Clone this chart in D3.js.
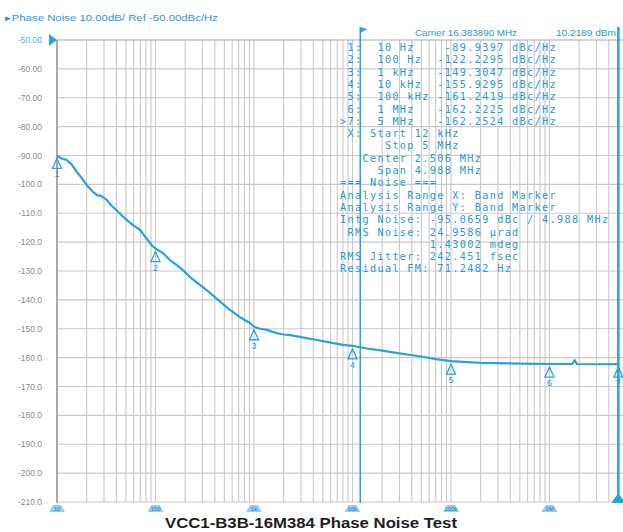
<!DOCTYPE html>
<html>
<head>
<meta charset="utf-8">
<script src="https://cdn.jsdelivr.net/npm/d3@7"></script>
<style>
  html, body { margin: 0; padding: 0; background: #fff; }
  svg { display: block; }
</style>
</head>
<body>
<div id="wrapper"></div>
<script>
/* DATA */
const traceFreq = [10, 11, 12.5, 14, 16, 18, 20, 23, 25.5, 28, 32, 36, 40, 45, 51, 60, 70, 80, 94, 100,
  119, 140, 165, 190, 224, 283, 357, 450, 570, 720, 911, 1000, 1150, 1350, 1500, 1700, 2000, 2330,
  3000, 4360, 6000, 8000, 10000, 15000, 20000, 30000, 50000, 70000, 100000, 200000, 500000,
  1e6, 1.7e6, 1.8e6, 1.9e6, 3e6, 5e6]
const traceDb = [-90.0, -91.0, -91.5, -93.0, -95.8, -98.0, -100.2, -102.5, -103.7, -104.0, -105.4, -107.5, -108.9, -110.6, -112.3, -114.3, -115.8, -118.5, -121.5, -122.2,
  -123.8, -126.2, -128.0, -129.7, -132.1, -134.8, -137.6, -140.5, -143.5, -146.0, -148.0, -149.3, -150.0, -150.4, -150.9, -151.5, -152.0, -152.2,
  -152.9, -153.9, -154.8, -155.6, -155.9, -157.0, -157.6, -158.5, -159.6, -160.5, -161.2, -161.8, -162.1,
  -162.2, -162.2, -160.9, -162.2, -162.3, -162.25]

const markerIds = ['1', '2', '3', '4', '5', '6', '7']
const markerFreqs = [10, 100, 1000, 10000, 100000, 1e6, 5e6]
const markerFreqLabels = ['10 Hz', '100 Hz', '1 kHz', '10 kHz', '100 kHz', '1 MHz', '5 MHz']
const markerValues = ['-89.9397', '-122.2295', '-149.3047', '-155.9295', '-161.2419', '-162.2225', '-162.2524']
const markerDb = [-89.94, -122.23, -149.30, -155.93, -161.24, -162.22, -162.25]

const yTicks = [-50, -60, -70, -80, -90, -100, -110, -120, -130, -140, -150, -160, -170, -180, -190, -200, -210]
const xDecades = [10, 100, 1000, 10000, 100000, 1e6]
const xDecadeLabels = ['10', '100', '1k', '10k', '100k', '1M']

const bandStart = 12000
const bandStop = 5e6

const headerText = '\u25B8Phase Noise 10.00dB/ Ref -50.00dBc/Hz'
const carrierText = 'Carrier 16.383890 MHz'
const carrierPower = '10.2189 dBm'
const analysisLines = [
  ' X: Start 12 kHz',
  '      Stop 5 MHz',
  '   Center 2.506 MHz',
  '     Span 4.988 MHz',
  '=== Noise ===',
  'Analysis Range X: Band Marker',
  'Analysis Range Y: Band Marker',
  'Intg Noise: -95.0659 dBc / 4.988 MHz',
  ' RMS Noise: 24.9586 \u00B5rad',
  '            1.43002 mdeg',
  'RMS Jitter: 242.451 fsec',
  'Residual FM: 71.2482 Hz'
]
const titleText = 'VCC1-B3B-16M384 Phase Noise Test'

/* DIMENSIONS */
const dimensions = {
  width: 623,
  height: 532,
  left: 57,
  top: 40,
  bottom: 502,
  decade: 98.5
}

const blue = '#2aa2dc'
const textBlue = '#2a98d4'
const gridColor = '#c9c9c9'

/* SCALES */
const xScale = d3.scaleLog()
  .domain([10, 1e7])
  .range([dimensions.left, dimensions.left + 6 * dimensions.decade])

const yScale = d3.scaleLinear()
  .domain([-50, -210])
  .range([dimensions.top, dimensions.bottom])

const wrapper = d3.select('#wrapper')
  .append('svg')
  .attr('width', dimensions.width)
  .attr('height', dimensions.height)
  .attr('viewBox', [0, 0, dimensions.width, dimensions.height])
  .style('font-family', 'Liberation Sans, Arial, sans-serif')

/* GRID */
const grid = wrapper.append('g')

grid.selectAll('line.v')
  .data(xScale.ticks())
  .enter()
  .append('line')
  .attr('class', 'v')
  .attr('x1', d => xScale(d))
  .attr('x2', d => xScale(d))
  .attr('y1', dimensions.top)
  .attr('y2', dimensions.bottom)
  .attr('stroke', gridColor)
  .attr('stroke-width', 1.1)

grid.selectAll('line.h')
  .data(yTicks)
  .enter()
  .append('line')
  .attr('class', 'h')
  .attr('x1', dimensions.left)
  .attr('x2', dimensions.width)
  .attr('y1', d => yScale(d))
  .attr('y2', d => yScale(d))
  .attr('stroke', d => d === -50 ? '#a8a8a8' : gridColor)
  .attr('stroke-width', 1.2)

grid.append('line')
  .attr('x1', dimensions.left)
  .attr('x2', dimensions.left)
  .attr('y1', dimensions.top)
  .attr('y2', dimensions.bottom + 1)
  .attr('stroke', '#9a9a9a')
  .attr('stroke-width', 1.6)

/* Y AXIS LABELS */
const yFormat = d => Math.abs(d) >= 100 ? d.toFixed(1) : d.toFixed(2)

wrapper.append('g')
  .attr('text-anchor', 'end')
  .attr('font-size', 8.5)
  .selectAll('text')
  .data(yTicks)
  .enter()
  .append('text')
  .attr('x', 42)
  .attr('y', d => yScale(d) + 3)
  .attr('fill', d => d === -50 ? '#5ab4e2' : '#8c8c8c')
  .text(yFormat)

// reference level arrow
wrapper.append('path')
  .attr('d', `M 49 ${yScale(-50) - 6} L 57 ${yScale(-50)} L 49 ${yScale(-50) + 6} Z`)
  .attr('fill', blue)

/* HEADER */
wrapper.append('text')
  .attr('x', 5)
  .attr('y', 21)
  .attr('font-size', 8.5)
  .attr('fill', textBlue)
  .attr('textLength', 213)
  .attr('lengthAdjust', 'spacingAndGlyphs')
  .text(headerText)

/* BAND MARKER LINES */
const bandGroup = wrapper.append('g')

bandGroup.append('line')
  .attr('x1', xScale(bandStart))
  .attr('x2', xScale(bandStart))
  .attr('y1', 27)
  .attr('y2', dimensions.bottom + 1)
  .attr('stroke', blue)
  .attr('stroke-width', 1.6)

bandGroup.append('path')
  .attr('d', `M ${xScale(bandStart)} 27 L ${xScale(bandStart) + 7} 29 L ${xScale(bandStart)} 33 Z`)
  .attr('fill', blue)

bandGroup.append('line')
  .attr('x1', xScale(bandStop))
  .attr('x2', xScale(bandStop))
  .attr('y1', 27)
  .attr('y2', dimensions.bottom)
  .attr('stroke', blue)
  .attr('stroke-width', 2.5)

bandGroup.append('path')
  .attr('d', `M ${xScale(bandStop) - 7} ${dimensions.bottom + 1} L ${xScale(bandStop)} ${dimensions.bottom - 9} L ${xScale(bandStop) + 7} ${dimensions.bottom + 1} Z`)
  .attr('fill', blue)

/* TRACE */
const trace = traceFreq.map((f, i) => [f, traceDb[i]])

const lineGenerator = d3.line()
  .x(d => xScale(d[0]))
  .y(d => yScale(d[1]))

wrapper.append('path')
  .datum(trace)
  .attr('d', lineGenerator)
  .attr('fill', 'none')
  .attr('stroke', blue)
  .attr('stroke-width', 2.2)
  .attr('stroke-linejoin', 'round')

/* MARKERS */
const markerGroups = wrapper.append('g')
  .selectAll('g')
  .data(markerIds)
  .enter()
  .append('g')
  .attr('transform', (d, i) => `translate(${xScale(markerFreqs[i])} ${yScale(markerDb[i])})`)

markerGroups.append('path')
  .attr('d', 'M 0 3 L -4.5 13 L 4.5 13 Z')
  .attr('fill', 'none')
  .attr('stroke', blue)
  .attr('stroke-width', 1.3)

markerGroups.append('text')
  .attr('y', 22)
  .attr('text-anchor', 'middle')
  .attr('font-size', 9)
  .attr('fill', textBlue)
  .text(d => d)

/* BOTTOM DECADE TAGS */
const tagGroups = wrapper.append('g')
  .selectAll('g')
  .data(xDecades)
  .enter()
  .append('g')
  .attr('transform', d => `translate(${xScale(d)} ${dimensions.bottom})`)

tagGroups.append('path')
  .attr('d', 'M -8 10 L -4 3 L 4 3 L 8 10 Z')
  .attr('fill', '#7cc0e6')
  .attr('opacity', 0.8)

tagGroups.append('text')
  .attr('y', 9)
  .attr('text-anchor', 'middle')
  .attr('font-size', 6)
  .attr('fill', '#1c7fbf')
  .text((d, i) => xDecadeLabels[i])

/* MARKER TABLE */
const nbsp = s => s.replace(/ /g, '\u00A0')

const table = wrapper.append('g')
  .attr('font-family', 'DejaVu Sans Mono, monospace')
  .attr('fill', textBlue)

const tableX = 340
const rowStart = 51
const rowStep = 12.3

table.append('text')
  .attr('x', 415)
  .attr('y', 36)
  .attr('font-family', 'Liberation Sans, Arial, sans-serif')
  .attr('font-size', 9)
  .attr('textLength', 102)
  .attr('lengthAdjust', 'spacingAndGlyphs')
  .text(carrierText)

table.append('text')
  .attr('x', 556)
  .attr('y', 36)
  .attr('font-family', 'Liberation Sans, Arial, sans-serif')
  .attr('font-size', 9)
  .attr('textLength', 60)
  .attr('lengthAdjust', 'spacingAndGlyphs')
  .text(carrierPower)

const markerRows = markerIds.map((id, i) =>
  `${i === markerIds.length - 1 ? '>' : ' '}${id}:  ${markerFreqLabels[i].padEnd(8)}${markerValues[i].padStart(9)} dBc/Hz`)

table.selectAll('text.row')
  .data(markerRows.concat(analysisLines))
  .enter()
  .append('text')
  .attr('class', 'row')
  .attr('x', tableX)
  .attr('y', (d, i) => rowStart + i * rowStep)
  .attr('font-size', 10.2)
  .attr('letter-spacing', 1.35)
  .text(d => nbsp(d))

/* TITLE */
wrapper.append('text')
  .attr('x', 311)
  .attr('y', 528)
  .attr('text-anchor', 'middle')
  .attr('font-size', 14)
  .attr('font-weight', 'bold')
  .attr('fill', '#1e1e1e')
  .attr('textLength', 292)
  .attr('lengthAdjust', 'spacingAndGlyphs')
  .text(titleText)
</script>
</body>
</html>
